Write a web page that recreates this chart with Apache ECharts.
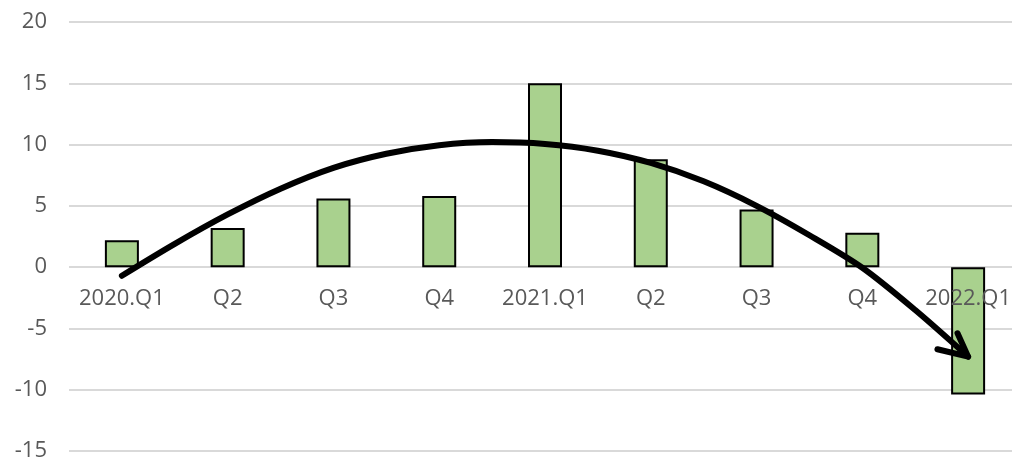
<!DOCTYPE html>
<html>
<head>
<meta charset="utf-8">
<script src="https://cdn.jsdelivr.net/npm/echarts@6/dist/echarts.min.js"></script>
<style>
html,body{margin:0;padding:0;background:#fff;}
#chart{width:1012px;height:459px;}
</style>
</head>
<body>
<div id="chart"></div>
<script>
// Data
const categories = ['2020.Q1','Q2','Q3','Q4','2021.Q1','Q2','Q3','Q4','2022.Q1'];
const growth = [2.2, 3.2, 5.6, 5.8, 15.0, 8.8, 4.7, 2.8, -10.4];
const yTicks = [-15, 20, 5]; // min, max, interval

// Hand-drawn trend arrow (category index, value)
const arrowX = [0.0, 0.5, 1.0, 1.5, 2.0, 2.5, 3.0, 3.5, 4.0, 4.5, 5.0, 5.5, 6.0, 6.5, 7.0, 7.5, 8.0];
const arrowY = [-0.7, 1.9, 4.3, 6.4, 8.1, 9.25, 9.95, 10.2, 10.05, 9.5, 8.5, 7.0, 5.0, 2.6, -0.05, -3.5, -7.3];
const headX = [7.71, 8.00, 7.90];
const headY = [-6.7, -7.3, -5.4];

const chart = echarts.init(document.getElementById('chart'), null, {renderer: 'canvas'});
const font = '"Open Sans", "Liberation Sans", sans-serif';
const pts = (xs, ys) => xs.map((x, i) => [x, ys[i]]);

chart.setOption({
  animation: false,
  backgroundColor: '#ffffff',
  grid: {left: 69, top: 22, width: 952, bottom: 8, containLabel: false, outerBoundsMode: 'none'},
  xAxis: [{
    type: 'category',
    data: categories,
    z: 5,
    axisLine: {show: false, onZero: false},
    axisTick: {show: false},
    axisLabel: {color: '#595959', fontSize: 22, fontFamily: font, margin: -163, interval: 0}
  }, {
    type: 'value',
    min: -0.5, max: 8.5,
    show: false
  }],
  yAxis: {
    type: 'value',
    min: yTicks[0], max: yTicks[1], interval: yTicks[2],
    axisLine: {show: false},
    axisTick: {show: false},
    axisLabel: {color: '#595959', fontSize: 22, fontFamily: font, margin: 22},
    splitLine: {lineStyle: {color: '#d9d9d9', width: 2}}
  },
  series: [{
    type: 'bar',
    data: growth,
    barWidth: 34,
    itemStyle: {color: '#a9d18e', borderColor: '#000000', borderWidth: 2},
    z: 2
  }, {
    type: 'line',
    xAxisIndex: 1,
    data: pts(arrowX, arrowY),
    smooth: 0.3,
    showSymbol: false,
    symbol: 'none',
    lineStyle: {color: '#000', width: 6, cap: 'round', join: 'round'},
    z: 10
  }, {
    type: 'line',
    xAxisIndex: 1,
    data: pts(headX, headY),
    showSymbol: false,
    symbol: 'none',
    lineStyle: {color: '#000', width: 6, cap: 'round', join: 'round'},
    z: 10
  }]
});
</script>
</body>
</html>
